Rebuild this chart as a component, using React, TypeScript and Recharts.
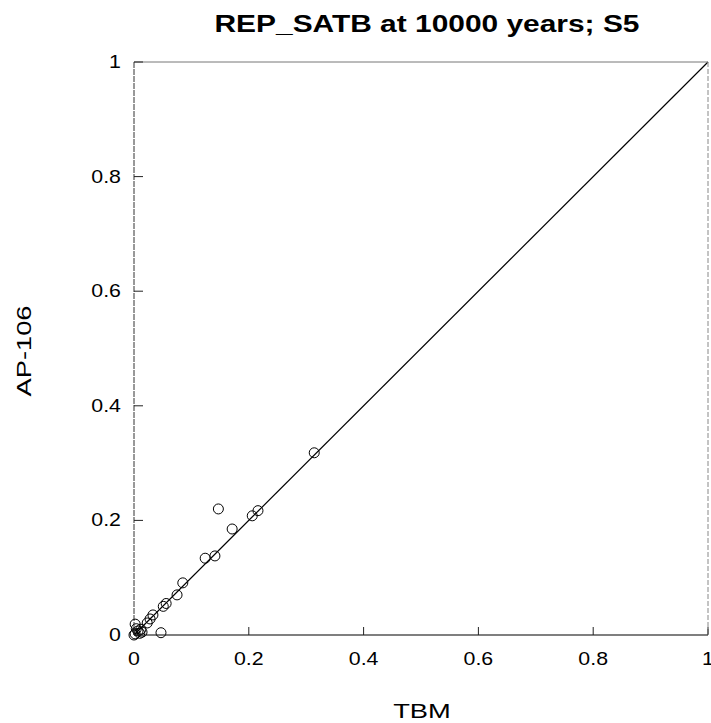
import React from "react";
import { ScatterChart, Scatter, XAxis, YAxis, ReferenceLine } from "recharts";

const tbm = [0.314, 0.147, 0.171, 0.206, 0.216, 0.124, 0.141, 0.085, 0.075, 0.056, 0.051, 0.047, 0.033, 0.028, 0.023, 0.002, 0.007, 0.002, 0.014, 0.004, 0.010, 0.012, 0.0];
const ap106 = [0.318, 0.220, 0.185, 0.208, 0.217, 0.134, 0.138, 0.091, 0.070, 0.055, 0.050, 0.004, 0.035, 0.028, 0.021, 0.019, 0.007, 0.002, 0.005, 0.011, 0.003, 0.010, 0.0];
const tickValues = [0, 0.2, 0.4, 0.6, 0.8, 1];
const tickLabels = ["0", "0.2", "0.4", "0.6", "0.8", "1"];
const identityLine = [{ x: 0, y: 0 }, { x: 1, y: 1 }];

const points = tbm.map((x, i) => ({ x, y: ap106[i] }));
const fmt = (v: number) => tickLabels[tickValues.indexOf(v)] ?? String(v);

const FONT = "'Liberation Sans', Arial, sans-serif";
const SX = 1.22;

const BottomTick = (p: any) => (
  <g>
    <line x1={p.x} x2={p.x} y1={p.y} y2={p.y - 8} stroke="#222" strokeWidth={1} />
    <text transform={`translate(${p.x},${p.y + 30}) scale(${SX},1)`} textAnchor="middle" fontSize={17.5} fontFamily={FONT} fill="#000">
      {fmt(p.payload.value)}
    </text>
  </g>
);
const TopTick = (p: any) => (
  <line x1={p.x} x2={p.x} y1={p.y} y2={p.y + 8} stroke="#666" strokeWidth={1} />
);
const LeftTick = (p: any) => (
  <g>
    <line x1={p.x} x2={p.x + 9} y1={p.y} y2={p.y} stroke="#222" strokeWidth={1} />
    <text transform={`translate(${p.x - 13},${p.y + 6}) scale(${SX},1)`} textAnchor="end" fontSize={17.5} fontFamily={FONT} fill="#000">
      {fmt(p.payload.value)}
    </text>
  </g>
);
const RightTick = (p: any) => (
  <line x1={p.x} x2={p.x - 9} y1={p.y} y2={p.y} stroke="#444" strokeWidth={1} />
);

const Circle = (p: any) => (
  <circle cx={p.cx} cy={p.cy} r={5} fill="none" stroke="#000" strokeWidth={1} />
);

export default function App() {
  return (
    <div style={{ position: "absolute", left: 0, top: 0, width: 711, height: 723, background: "#fff", fontFamily: FONT }}>
      <ScatterChart width={711} height={723} margin={{ top: 61, right: 2, bottom: 58, left: 0 }}>
        <XAxis
          xAxisId="b"
          type="number"
          dataKey="x"
          domain={[0, 1]}
          ticks={tickValues}
          interval={0}
          height={30}
          tickSize={0}
          tickMargin={0}
          tickLine={false}
          axisLine={{ stroke: "#000", strokeWidth: 1.2 }}
          tick={BottomTick}
        />
        <XAxis
          xAxisId="t"
          orientation="top"
          type="number"
          dataKey="x"
          domain={[0, 1]}
          ticks={tickValues}
          interval={0}
          height={1}
          tickSize={0}
          tickMargin={0}
          tickLine={false}
          axisLine={{ stroke: "#777", strokeWidth: 1 }}
          tick={TopTick}
        />
        <YAxis
          yAxisId="l"
          type="number"
          dataKey="y"
          domain={[0, 1]}
          ticks={tickValues}
          interval={0}
          width={134}
          tickSize={0}
          tickMargin={0}
          tickLine={false}
          axisLine={{ stroke: "#333", strokeWidth: 1, strokeDasharray: "6 1" }}
          tick={LeftTick}
        />
        <YAxis
          yAxisId="r"
          orientation="right"
          type="number"
          dataKey="y"
          domain={[0, 1]}
          ticks={tickValues}
          interval={0}
          width={1}
          tickSize={0}
          tickMargin={0}
          tickLine={false}
          axisLine={{ stroke: "#888", strokeWidth: 1, strokeDasharray: "5 2" }}
          tick={RightTick}
        />
        <ReferenceLine
          xAxisId="b"
          yAxisId="l"
          segment={identityLine}
          stroke="#000"
          strokeWidth={1.2}
          ifOverflow="visible"
        />
        <Scatter
          xAxisId="b"
          yAxisId="l"
          data={points}
          shape={Circle}
          isAnimationActive={false}
        />
      </ScatterChart>
      <div style={{ position: "absolute", left: 427, top: 11, transform: `translateX(-50%) scaleX(1.3)`, whiteSpace: "nowrap", fontSize: 23, fontWeight: "bold", lineHeight: "26px", color: "#000" }}>
        REP_SATB at 10000 years; S5
      </div>
      <div style={{ position: "absolute", left: 422, top: 699, transform: `translateX(-50%) scaleX(1.3)`, whiteSpace: "nowrap", fontSize: 21, lineHeight: "24px", color: "#000" }}>
        TBM
      </div>
      <div style={{ position: "absolute", left: 24, top: 351, transform: `translate(-50%,-50%) rotate(-90deg) scaleX(1.3)`, whiteSpace: "nowrap", fontSize: 21, lineHeight: "24px", color: "#000" }}>
        AP-106
      </div>
    </div>
  );
}
